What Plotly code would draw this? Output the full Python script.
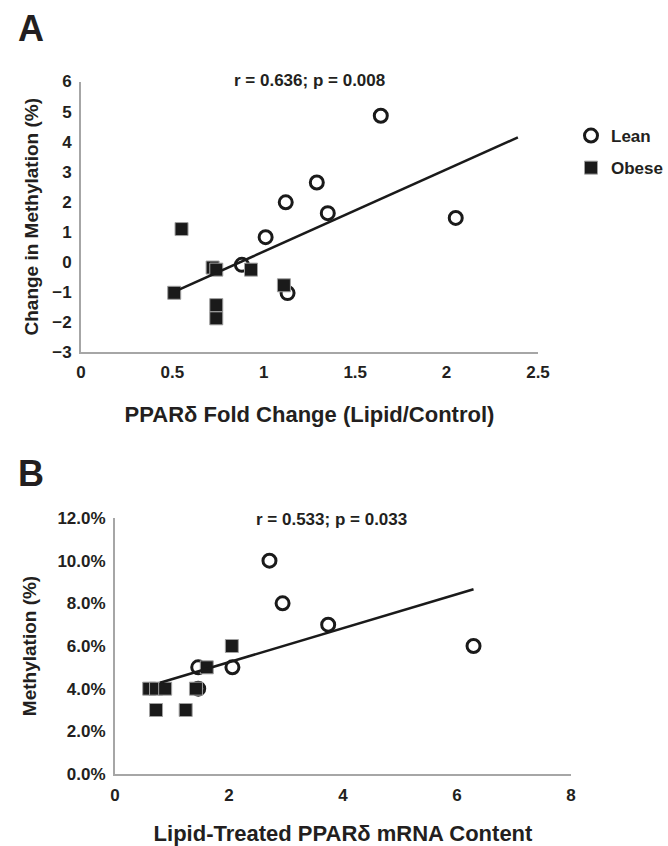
import plotly.graph_objects as go

# ---------------- Data ----------------
# Panel A: PPARδ fold change vs change in methylation
lean_a_x = [0.88, 1.01, 1.12, 1.29, 1.35, 1.13, 1.64, 2.05]
lean_a_y = [-0.10, 0.82, 1.98, 2.64, 1.62, -1.04, 4.86, 1.46]
obese_a_x = [0.55, 0.51, 0.72, 0.74, 0.74, 0.74, 0.93, 1.11]
obese_a_y = [1.09, -1.03, -0.19, -0.26, -1.44, -1.88, -0.26, -0.78]
trend_a_x = [0.53, 2.39]
trend_a_y = [-0.94, 4.14]

# Panel B: lipid-treated PPARδ mRNA content vs methylation
lean_b_x = [2.71, 2.94, 3.74, 1.46, 2.06, 1.46, 6.29]
lean_b_y = [0.100, 0.080, 0.070, 0.050, 0.050, 0.040, 0.060]
obese_b_x = [0.60, 0.72, 0.88, 0.72, 1.24, 1.42, 1.61, 2.05]
obese_b_y = [0.040, 0.040, 0.040, 0.030, 0.030, 0.040, 0.050, 0.060]
trend_b_x = [0.79, 6.29]
trend_b_y = [0.0428, 0.0866]

series_names = ["Lean", "Obese"]
stats_a = "r = 0.636; p = 0.008"
stats_b = "r = 0.533; p = 0.033"
xtitle_a = "PPARδ Fold Change (Lipid/Control)"
ytitle_a = "Change in Methylation (%)"
xtitle_b = "Lipid-Treated PPARδ mRNA Content"
ytitle_b = "Methylation (%)"

# ---------------- Styles ----------------
W, H = 668, 846
FONT = "Liberation Sans, Arial, sans-serif"
TXT = "#231f20"
AXC = "#a6a6a6"

lean_marker = dict(symbol="circle", size=13, color="white",
                   line=dict(color="#1a1a1a", width=3))
obese_marker = dict(symbol="square", size=13, color="#1a1a1a",
                    line=dict(color="#a0a0a0", width=1))

fig = go.Figure()

# Panel A
fig.add_trace(go.Scatter(x=lean_a_x, y=lean_a_y, mode="markers", name=series_names[0],
                         marker=lean_marker, legendgroup="lean", xaxis="x", yaxis="y"))
fig.add_trace(go.Scatter(x=obese_a_x, y=obese_a_y, mode="markers", name=series_names[1],
                         marker=obese_marker, legendgroup="obese", xaxis="x", yaxis="y"))
fig.add_trace(go.Scatter(x=trend_a_x, y=trend_a_y, mode="lines", showlegend=False,
                         line=dict(color="#1a1a1a", width=2.5), xaxis="x", yaxis="y"))

# Panel B
fig.add_trace(go.Scatter(x=lean_b_x, y=lean_b_y, mode="markers", name=series_names[0],
                         marker=lean_marker, showlegend=False, xaxis="x2", yaxis="y2"))
fig.add_trace(go.Scatter(x=obese_b_x, y=obese_b_y, mode="markers", name=series_names[1],
                         marker=obese_marker, showlegend=False, xaxis="x2", yaxis="y2"))
fig.add_trace(go.Scatter(x=trend_b_x, y=trend_b_y, mode="lines", showlegend=False,
                         line=dict(color="#1a1a1a", width=2.5), xaxis="x2", yaxis="y2"))

tickfont = dict(family=FONT, size=17, color=TXT, weight="bold")
titlefont_x = dict(family=FONT, size=22, color=TXT, weight="bold")
titlefont_y = dict(family=FONT, size=19, color=TXT, weight="bold")

common_axis = dict(showgrid=False, zeroline=False, showline=True, linecolor=AXC,
                   linewidth=2, ticks="", tickfont=tickfont, automargin=False,
                   tickprefix="<b>", ticksuffix="</b>")

fig.update_layout(
    width=W, height=H,
    margin=dict(l=0, r=0, t=0, b=0, autoexpand=False),
    paper_bgcolor="white", plot_bgcolor="white",
    font=dict(family=FONT, color=TXT),
    xaxis=dict(domain=[81 / W, 538 / W], range=[0, 2.5], dtick=0.5, anchor="y",
               ticklabelstandoff=4,
               title=dict(text=xtitle_a, font=titlefont_x, standoff=25), **common_axis),
    yaxis=dict(domain=[1 - 352 / H, 1 - 81.5 / H], range=[-3, 6], dtick=1, anchor="x",
               ticklabelstandoff=4,
               title=dict(text=ytitle_a, font=titlefont_y, standoff=9), **common_axis),
    xaxis2=dict(domain=[115 / W, 571 / W], range=[0, 8], dtick=2, anchor="y2",
                ticklabelstandoff=5,
                title=dict(text=xtitle_b, font=titlefont_x, standoff=21), **common_axis),
    yaxis2=dict(domain=[1 - 774 / H, 1 - 518 / H], range=[0, 0.12], dtick=0.02,
                tickformat=".1%", anchor="x2", ticklabelstandoff=4,
                title=dict(text=ytitle_b, font=titlefont_y, standoff=16), **common_axis),
    legend=dict(x=1, y=1 - 118 / H, xanchor="right", yanchor="top",
                font=dict(family=FONT, size=17, color=TXT, weight="bold"),
                tracegroupgap=7, bgcolor="rgba(0,0,0,0)"),
    showlegend=True,
    annotations=[
        dict(text="<b>%s</b>" % stats_a, x=309 / W, y=1 - 80 / H, xref="paper", yref="paper",
             xanchor="center", yanchor="middle",
             showarrow=False, font=dict(family=FONT, size=17, color=TXT)),
        dict(text="<b>%s</b>" % stats_b, x=331.5 / W, y=1 - 519 / H, xref="paper", yref="paper",
             xanchor="center", yanchor="middle",
             showarrow=False, font=dict(family=FONT, size=17, color=TXT)),
        dict(text="<b>A</b>", x=31 / W, y=1 - 29 / H, xref="paper", yref="paper",
             xanchor="center", yanchor="middle",
             showarrow=False, font=dict(family=FONT, size=36, color=TXT)),
        dict(text="<b>B</b>", x=31.5 / W, y=1 - 473 / H, xref="paper", yref="paper",
             xanchor="center", yanchor="middle",
             showarrow=False, font=dict(family=FONT, size=36, color=TXT)),
    ],
)

fig.write_html("out.html", config={"displayModeBar": False},
               post_script="document.body.style.margin='0';")
